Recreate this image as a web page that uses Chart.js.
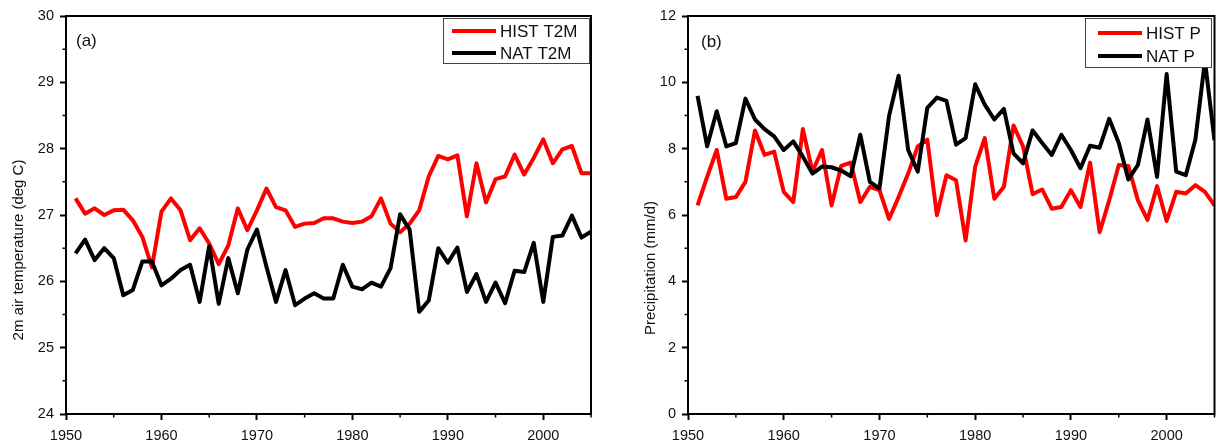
<!DOCTYPE html>
<html>
<head>
<meta charset="utf-8">
<script src="https://cdn.jsdelivr.net/npm/chart.js@4.4.0/dist/chart.umd.min.js"></script>
<style>
  html, body { margin: 0; padding: 0; background: #fff; }
  #wrap { position: relative; width: 1216px; height: 441px; }
  .panel { position: absolute; top: 0; width: 608px; height: 441px; }
</style>
</head>
<body>
<div id="wrap">
  <div class="panel" style="left:0"><canvas id="chartT" width="608" height="441"></canvas></div>
  <div class="panel" style="left:608px"><canvas id="chartP" width="608" height="441"></canvas></div>
</div>
<script>
const years = [
  1951, 1952, 1953, 1954, 1955, 1956, 1957, 1958, 1959, 1960,
  1961, 1962, 1963, 1964, 1965, 1966, 1967, 1968, 1969, 1970,
  1971, 1972, 1973, 1974, 1975, 1976, 1977, 1978, 1979, 1980,
  1981, 1982, 1983, 1984, 1985, 1986, 1987, 1988, 1989, 1990,
  1991, 1992, 1993, 1994, 1995, 1996, 1997, 1998, 1999, 2000,
  2001, 2002, 2003, 2004, 2005
];

const histT2M = [
  27.25, 27.02, 27.10, 27.00, 27.07, 27.08, 26.92, 26.67, 26.21, 27.05,
  27.25, 27.07, 26.62, 26.80, 26.57, 26.26, 26.54, 27.10, 26.77, 27.07,
  27.40, 27.12, 27.07, 26.82, 26.87, 26.88, 26.95, 26.95, 26.90, 26.88,
  26.90, 26.98, 27.25, 26.87, 26.74, 26.87, 27.07, 27.58, 27.89, 27.84,
  27.90, 26.98, 27.78, 27.19, 27.54, 27.58, 27.91, 27.61, 27.86, 28.14,
  27.78, 27.99, 28.04, 27.63, 27.63
];
const natT2M = [
  26.42, 26.63, 26.32, 26.50, 26.35, 25.79, 25.87, 26.30, 26.30, 25.94,
  26.04, 26.17, 26.25, 25.69, 26.53, 25.66, 26.35, 25.82, 26.48, 26.78,
  26.22, 25.69, 26.17, 25.64, 25.74, 25.82, 25.74, 25.74, 26.25, 25.92,
  25.88, 25.98, 25.92, 26.20, 27.01, 26.78, 25.54, 25.71, 26.50, 26.28,
  26.51, 25.84, 26.11, 25.69, 25.98, 25.67, 26.16, 26.14, 26.58, 25.69,
  26.67, 26.69, 26.99, 26.66, 26.75
];
const histP = [
  6.29, 7.15, 7.96, 6.49, 6.54, 7.00, 8.55, 7.81, 7.91, 6.70,
  6.39, 8.59, 7.31, 7.96, 6.29, 7.48, 7.58, 6.39, 6.85, 6.75,
  5.88, 6.54, 7.25, 8.07, 8.27, 5.99, 7.20, 7.05, 5.23, 7.46,
  8.32, 6.49, 6.85, 8.70, 8.07, 6.63, 6.77, 6.19, 6.24, 6.75,
  6.24, 7.58, 5.48, 6.44, 7.51, 7.48, 6.44, 5.85, 6.87, 5.82,
  6.70, 6.65, 6.90, 6.70, 6.29
];
const natP = [
  9.59, 8.07, 9.13, 8.07, 8.17, 9.51, 8.88, 8.59, 8.37, 7.96,
  8.22, 7.76, 7.25, 7.46, 7.44, 7.34, 7.17, 8.42, 7.00, 6.80,
  8.98, 10.20, 7.96, 7.31, 9.23, 9.54, 9.44, 8.12, 8.32, 9.94,
  9.33, 8.88, 9.20, 7.86, 7.56, 8.55, 8.17, 7.81, 8.42, 7.96,
  7.41, 8.09, 8.03, 8.90, 8.17, 7.07, 7.51, 8.88, 7.15, 10.25,
  7.31, 7.20, 8.27, 10.65, 8.25
];

const FONT = '"Liberation Sans", Arial, sans-serif';
const INK = '#111';

// midpoints between major ticks -> short minor ticks
function minorValues(scale) {
  const t = scale.ticks.map(k => k.value);
  const out = [];
  for (let i = 0; i < t.length - 1; i++) out.push((t[i] + t[i + 1]) / 2);
  const step = t[1] - t[0];
  if (t[t.length - 1] + step / 2 <= scale.max + 1e-9) out.push(t[t.length - 1] + step / 2);
  return out;
}

const framePlugin = {
  id: 'frame',
  afterDraw(chart, args, o) {
    const { ctx, chartArea: a, scales } = chart;
    ctx.save();
    ctx.strokeStyle = '#000';
    ctx.lineWidth = 2;
    ctx.strokeRect(a.left, a.top, a.right - a.left, a.bottom - a.top);

    ctx.lineWidth = 1.5;
    ctx.beginPath();
    minorValues(scales.x).forEach(v => {
      const px = scales.x.getPixelForValue(v);
      ctx.moveTo(px, a.bottom);
      ctx.lineTo(px, a.bottom + 3.5);
    });
    minorValues(scales.y).forEach(v => {
      const py = scales.y.getPixelForValue(v);
      ctx.moveTo(a.left, py);
      ctx.lineTo(a.left - 3.5, py);
    });
    ctx.stroke();

    ctx.fillStyle = INK;
    ctx.textBaseline = 'middle';
    ctx.textAlign = 'left';
    ctx.font = '17px ' + FONT;
    ctx.fillText(o.tag, o.tagX, o.tagY);

    ctx.save();
    ctx.translate(o.titleX, o.titleY);
    ctx.rotate(-Math.PI / 2);
    ctx.textAlign = 'center';
    ctx.font = '15px ' + FONT;
    ctx.fillText(o.title, 0, 0);
    ctx.restore();

    const b = o.box;
    ctx.fillStyle = '#fff';
    ctx.fillRect(b.x, b.y, b.w, b.h);
    ctx.lineWidth = 1;
    ctx.strokeStyle = '#444';
    ctx.strokeRect(b.x + 0.5, b.y + 0.5, b.w, b.h);
    ctx.font = '17px ' + FONT;
    chart.data.datasets.forEach((ds, i) => {
      const yy = b.y + b.row + i * b.gap;
      ctx.strokeStyle = ds.borderColor;
      ctx.lineWidth = 4;
      ctx.beginPath();
      ctx.moveTo(b.x + b.pad, yy);
      ctx.lineTo(b.x + b.pad + 44, yy);
      ctx.stroke();
      ctx.fillStyle = INK;
      ctx.fillText(ds.label, b.x + b.pad + 48, yy + 1);
    });
    ctx.restore();
  }
};

function makeChart(id, hist, nat, labels, yMin, yMax, yStep, yWidth, deco) {
  return new Chart(document.getElementById(id), {
    type: 'line',
    data: {
      datasets: [
        { label: labels[0], data: years.map((x, i) => ({ x, y: hist[i] })), borderColor: '#ff0000', order: 1 },
        { label: labels[1], data: years.map((x, i) => ({ x, y: nat[i] })), borderColor: '#000000', order: 0 },
      ],
    },
    options: {
      responsive: false,
      animation: false,
      layout: { padding: { top: 16, right: deco.padRight, left: 0, bottom: 0 } },
      elements: {
        line: { borderWidth: 4, tension: 0, borderJoinStyle: 'round' },
        point: { radius: 0 },
      },
      plugins: { legend: { display: false }, tooltip: { enabled: false }, frame: deco },
      scales: {
        x: {
          type: 'linear',
          min: 1950,
          max: 2005,
          afterFit: s => { s.height = 27; },
          ticks: { stepSize: 10, includeBounds: false, padding: 7, color: INK,
                   font: { family: FONT, size: 14.5 }, callback: v => String(v), maxRotation: 0 },
          grid: { drawOnChartArea: false, tickLength: 6, tickWidth: 2, tickColor: '#000' },
          border: { display: false },
        },
        y: {
          min: yMin,
          max: yMax,
          afterFit: s => { s.width = yWidth; },
          ticks: { stepSize: yStep, padding: 6, color: INK, font: { family: FONT, size: 14.5 } },
          grid: { drawOnChartArea: false, tickLength: 6, tickWidth: 2, tickColor: '#000' },
          border: { display: false },
        },
      },
    },
    plugins: [framePlugin],
  });
}

makeChart('chartT', histT2M, natT2M, ['HIST T2M', 'NAT T2M'], 24, 30, 1, 66, {
  padRight: 17,
  tag: '(a)', tagX: 76, tagY: 41,
  title: '2m air temperature (deg C)', titleX: 19, titleY: 250,
  box: { x: 443, y: 18, w: 146, h: 45, row: 13, gap: 22, pad: 9 },
});

makeChart('chartP', histP, natP, ['HIST P', 'NAT P'], 0, 12, 2, 80, {
  padRight: 1.5,
  tag: '(b)', tagX: 93, tagY: 42,
  title: 'Precipitation (mm/d)', titleX: 43, titleY: 268,
  box: { x: 477, y: 18, w: 126, h: 49, row: 15, gap: 23, pad: 13 },
});
</script>
</body>
</html>
